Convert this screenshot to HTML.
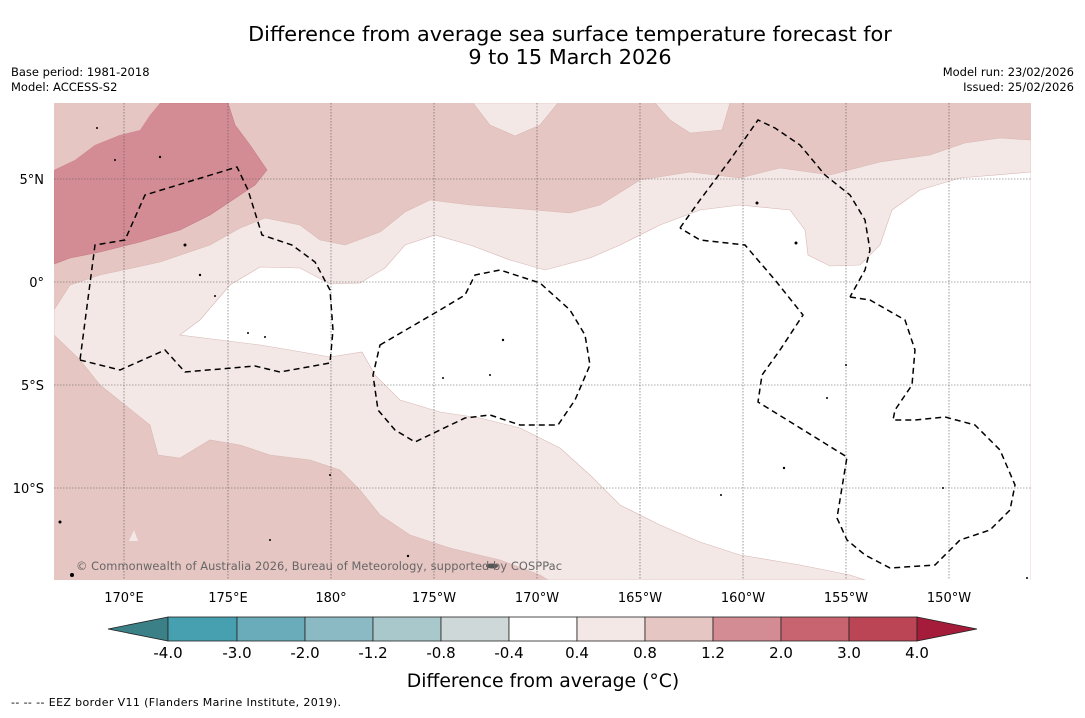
<!DOCTYPE html>
<html><head><meta charset="utf-8"><style>
body{margin:0;background:#fff;font-family:"Liberation Sans","DejaVu Sans",sans-serif;}
svg text{font-family:"DejaVu Sans","Liberation Sans",sans-serif;}
</style></head><body>
<svg width="1085" height="713" viewBox="0 0 1085 713">
<rect width="1085" height="713" fill="#fff"/>
<text x="570" y="41" text-anchor="middle" font-size="20.8" fill="#000">Difference from average sea surface temperature forecast for</text>
<text x="570" y="64" text-anchor="middle" font-size="20.8" fill="#000">9 to 15 March 2026</text>
<text x="11" y="76" font-size="11.5">Base period: 1981-2018</text>
<text x="11" y="91" font-size="11.5">Model: ACCESS-S2</text>
<text x="1074" y="76" font-size="11.5" text-anchor="end">Model run: 23/02/2026</text>
<text x="1074" y="91" font-size="11.5" text-anchor="end">Issued: 25/02/2026</text>

<g>
<clipPath id="mc"><rect x="54" y="103" width="977" height="477"/></clipPath>
<g clip-path="url(#mc)">
<rect x="54" y="103" width="977" height="477" fill="#e6c6c2"/>
<path fill="#f4e8e7" stroke="#d8b8b4" stroke-width="0.6" d="M54,310 L70,285 L100,275 L160,262 L210,245 L240,228 L265,218 L300,225 L320,240 L345,245 L380,232 L405,212 L430,200 L470,205 L510,208 L570,213 L600,205 L640,180 L690,172 L740,178 L780,168 L830,175 L880,162 L930,155 L965,143 L1000,138 L1031,140 L1031,580 L548,580 L540,575 L500,560 L450,548 L410,535 L380,515 L360,490 L340,470 L310,460 L270,455 L240,445 L210,440 L180,458 L158,455 L150,425 L125,405 L100,385 L80,360 L54,335 Z"/>
<path fill="#fff" stroke="#d8b8b4" stroke-width="0.6" d="M180,335 L200,320 L230,285 L260,267 L300,268 L330,284 L360,283 L385,268 L405,245 L435,235 L470,245 L510,260 L545,270 L590,258 L620,245 L660,225 L700,210 L740,205 L790,210 L805,230 L808,255 L830,266 L860,265 L880,245 L892,210 L920,190 L960,178 L1031,172 L1031,585 L880,585 L850,575 L800,565 L740,555 L700,542 L660,525 L620,505 L590,475 L560,448 L520,428 L480,418 L440,412 L400,400 L375,375 L362,352 L330,357 L290,350 L260,345 L220,340 Z"/>
<path fill="#f4e8e7" stroke="#d8b8b4" stroke-width="0.6" d="M473,103 L490,125 L515,136 L540,125 L558,103 Z"/>
<path fill="#f4e8e7" stroke="#d8b8b4" stroke-width="0.6" d="M655,103 L670,120 L690,133 L722,130 L730,103 Z"/>
<path fill="#d48c94" stroke="#c47c84" stroke-width="0.6" d="M54,170 L75,160 L95,145 L120,135 L140,120 L160,103 L228,103 L235,125 L250,145 L267,170 L255,185 L240,195 L210,215 L180,230 L140,242 L100,252 L70,258 L54,264 Z"/>
<path fill="#e6c6c2" d="M54,103 L160,103 L150,115 L140,130 L120,135 L95,145 L75,160 L54,170 Z"/>
<path fill="#f4e8e7" d="M129,541 L134,530 L138,541 Z"/>
</g>
<g stroke="#555" stroke-width="0.6" stroke-dasharray="1.5,1.5">
<line x1="124" y1="103" x2="124" y2="580"/><line x1="228" y1="103" x2="228" y2="580"/><line x1="331" y1="103" x2="331" y2="580"/><line x1="434" y1="103" x2="434" y2="580"/><line x1="537" y1="103" x2="537" y2="580"/><line x1="640" y1="103" x2="640" y2="580"/><line x1="743" y1="103" x2="743" y2="580"/><line x1="846" y1="103" x2="846" y2="580"/><line x1="949" y1="103" x2="949" y2="580"/>
<line x1="54" y1="179" x2="1031" y2="179"/><line x1="54" y1="282" x2="1031" y2="282"/><line x1="54" y1="385" x2="1031" y2="385"/><line x1="54" y1="488" x2="1031" y2="488"/>
</g>
<g fill="none" stroke="#000" stroke-width="1.5" stroke-dasharray="6,4">
<path d="M80,360 L120,370 L165,350 L185,372 L255,366 L280,372 L330,363 L333,330 L330,290 L315,262 L292,245 L262,235 L248,190 L237,167 L145,195 L125,240 L95,245 Z"/>
<path d="M380,345 L440,310 L465,295 L475,275 L500,270 L540,283 L570,310 L585,335 L590,365 L575,400 L558,425 L520,425 L490,415 L465,418 L415,442 L395,430 L378,410 L373,375 Z"/>
<path d="M680,228 L700,200 L730,160 L758,120 L775,128 L800,145 L825,175 L850,195 L865,220 L870,250 L865,270 L850,297"/>
<path d="M850,297 L870,300 L905,320 L915,350 L912,385 L895,410 L893,420 L915,420 L945,417 L975,425 L1000,450 L1015,485 L1010,510 L990,530 L960,540 L935,565 L890,568 L865,555 L847,540 L837,518 L847,457 L758,402 L762,375 L780,350 L803,315 L775,280 L745,245 L700,240 L680,228"/>
</g>
<g fill="#000">
<circle cx="160" cy="157" r="1.2"/><circle cx="185" cy="245" r="1.5"/><circle cx="200" cy="275" r="1.2"/><circle cx="215" cy="296" r="1"/><circle cx="248" cy="333" r="1"/><circle cx="265" cy="337" r="1"/><circle cx="503" cy="340" r="1.2"/><circle cx="490" cy="375" r="1"/><circle cx="443" cy="378" r="1"/><circle cx="757" cy="203" r="1.5"/><circle cx="796" cy="243" r="1.5"/><circle cx="784" cy="468" r="1.2"/><circle cx="721" cy="495" r="1"/><circle cx="60" cy="522" r="1.5"/><circle cx="72" cy="575" r="2"/><ellipse cx="492" cy="566" rx="6" ry="2.5" fill="#555"/><circle cx="408" cy="556" r="1.2"/><circle cx="270" cy="540" r="1"/><circle cx="330" cy="475" r="1"/><circle cx="846" cy="365" r="1"/><circle cx="943" cy="488" r="1"/><circle cx="1027" cy="578" r="1"/><circle cx="827" cy="398" r="1"/><circle cx="115" cy="160" r="1"/><circle cx="97" cy="128" r="1"/></g>
<text x="76" y="570" font-size="11.4" fill="#666" textLength="486">© Commonwealth of Australia 2026, Bureau of Meteorology, supported by COSPPac</text>
</g>

<g font-size="13" fill="#000">
<text x="124" y="602" text-anchor="middle">170°E</text><text x="228" y="602" text-anchor="middle">175°E</text><text x="331" y="602" text-anchor="middle">180°</text><text x="434" y="602" text-anchor="middle">175°W</text><text x="537" y="602" text-anchor="middle">170°W</text><text x="640" y="602" text-anchor="middle">165°W</text><text x="743" y="602" text-anchor="middle">160°W</text><text x="846" y="602" text-anchor="middle">155°W</text><text x="949" y="602" text-anchor="middle">150°W</text>
</g>
<g font-size="13" fill="#000" text-anchor="end">
<text x="44" y="184">5°N</text><text x="44" y="287">0°</text><text x="44" y="390">5°S</text><text x="44" y="493">10°S</text>
</g>

<g stroke="#222" stroke-width="0.8">
<polygon points="168,617 108,629 168,641" fill="#3b7f87"/>
<rect x="168" y="617" width="69" height="24" fill="#47a0b0"/>
<rect x="237" y="617" width="68" height="24" fill="#6aacba"/>
<rect x="305" y="617" width="68" height="24" fill="#8bb9c4"/>
<rect x="373" y="617" width="68" height="24" fill="#a9c8cc"/>
<rect x="441" y="617" width="68" height="24" fill="#cfd8d9"/>
<rect x="509" y="617" width="68" height="24" fill="#ffffff"/>
<rect x="577" y="617" width="68" height="24" fill="#f4e8e7"/>
<rect x="645" y="617" width="68" height="24" fill="#e6c6c2"/>
<rect x="713" y="617" width="68" height="24" fill="#d48c94"/>
<rect x="781" y="617" width="68" height="24" fill="#c8646f"/>
<rect x="849" y="617" width="68" height="24" fill="#bb4455"/>
<polygon points="917,617 977,629 917,641" fill="#a51c3a"/>
</g>
<g font-size="15" fill="#000" text-anchor="middle">
<text x="168" y="658">-4.0</text><text x="237" y="658">-3.0</text><text x="305" y="658">-2.0</text><text x="373" y="658">-1.2</text><text x="441" y="658">-0.8</text><text x="509" y="658">-0.4</text><text x="577" y="658">0.4</text><text x="645" y="658">0.8</text><text x="713" y="658">1.2</text><text x="781" y="658">2.0</text><text x="849" y="658">3.0</text><text x="917" y="658">4.0</text>
</g>
<text x="543" y="687" font-size="18.8" text-anchor="middle">Difference from average (°C)</text>
<text x="11" y="706" font-size="11" textLength="330">-- -- -- EEZ border V11 (Flanders Marine Institute, 2019).</text>
</svg>
</body></html>
